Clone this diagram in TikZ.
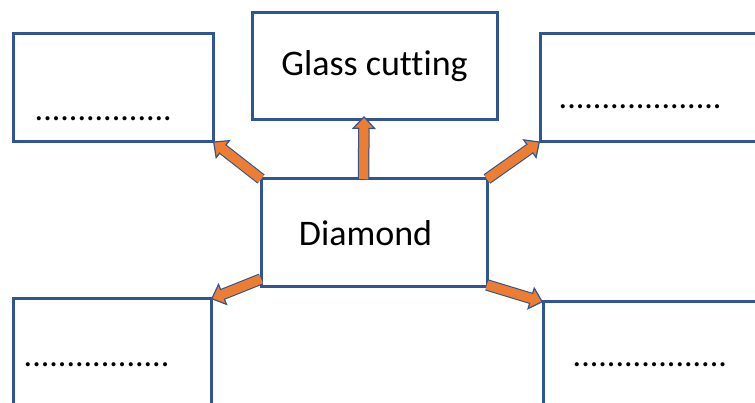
\documentclass[tikz,border=0pt]{standalone}
\usepackage{fontspec}
\setmainfont{Carlito}[Ligatures=NoCommon]
\usetikzlibrary{arrows.meta}
\definecolor{boxblue}{HTML}{2F5597}
\definecolor{arrorange}{HTML}{ED7D31}
\tikzset{
  box/.style={draw=boxblue,line width=3pt,minimum width=#1,minimum height=108pt,
    inner sep=0pt,outer sep=0pt,font=\fontsize{36}{40}\selectfont},
  box/.default=200pt,
  blank/.style={inner sep=0pt,anchor=base west,font=\fontsize{34}{40}\selectfont},
  pointer/.style={arrorange,line width=9pt,
    -{Triangle[length=13pt,width=24pt,line width=1.2pt,fill=arrorange,color=boxblue]},
    preaction={draw=boxblue,line width=11.5pt,-,shorten >=12pt},
    postaction={draw=arrorange,line width=9pt,-,shorten >=11pt}}
}
\begin{document}
\begin{tikzpicture}[x=1pt,y=1pt]
  \useasboundingbox (0,0) rectangle (755,-403);
  \clip (0,0) rectangle (755,-403);
  \node[box=226pt] (dia) at (374,-233) {Diamond\hspace*{17pt}};
  \node[box=245pt,minimum height=107pt] (gc) at (374.5,-66.5) {Glass cutting};
  \node[box] (tl) at (113,-87.5) {};
  \node[box=230pt] (tr) at (655,-87.5) {};
  \node[box=198pt] (bl) at (112,-353) {};
  \node[box=230pt] (br) at (658,-356) {};
  \node[blank] (tlt) at ([shift={(21.5,-87.5)}]tl.north west) {................};
  \node[blank] (trt) at ([shift={(18.5,-75)}]tr.north west) {...................};
  \node[blank] (blt) at ([shift={(10.5,-67.5)}]bl.north west) {.................};
  \node[blank] (brt) at ([shift={(29.5,-64.5)}]br.north west) {..................};
  \draw[pointer] ([xshift=-10.5]dia.north) -- ([xshift=-10.5,yshift=4]gc.south);
  \draw[pointer] (dia.north west) -- (tl.south east);
  \draw[pointer] (dia.north east) -- (tr.south west);
  \draw[pointer] ([yshift=8]dia.south west) -- (bl.north east);
  \draw[pointer] ([yshift=2]dia.south east) -- (br.north west);
\end{tikzpicture}
\end{document}
